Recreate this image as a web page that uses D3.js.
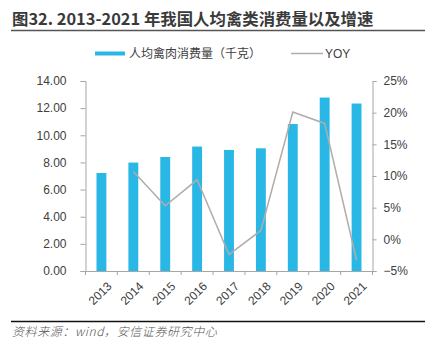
<!DOCTYPE html>
<html>
<head>
<meta charset="utf-8">
<script src="https://cdn.jsdelivr.net/npm/d3@7"></script>
<style>
  body { margin: 0; background: #fff; }
  svg { display: block; }
</style>
</head>
<body>
<div id="chart"></div>
<script>
(function () {
    'use strict';
    var w = 430, h = 347;

    // data
    var years = ["2013", "2014", "2015", "2016", "2017", "2018", "2019", "2020", "2021"];
    var consumption = [7.22, 7.99, 8.40, 9.17, 8.92, 9.04, 10.83, 12.78, 12.34];
    var yoy = [null, 10.7, 5.3, 9.4, -2.4, 1.4, 20.1, 18.3, -3.3];
    var leftTicks = [0, 2, 4, 6, 8, 10, 12, 14];
    var rightTicks = [-5, 0, 5, 10, 15, 20, 25];

    var barColor = "#29b8e5";
    var lineColor = "#b3abab";
    var axisColor = "#a6a6a6";
    var textColor = "#404040";
    var numFont = "'Liberation Sans', Arial, sans-serif";
    var cjkFont = "'Noto Sans CJK SC', sans-serif";

    var plot = { left: 85.5, right: 372.5, top: 81, bottom: 271 };

    var svg = d3.select("#chart").append("svg")
        .attr("width", w)
        .attr("height", h);

    // title + rule
    svg.append("text")
        .attr("x", 12)
        .attr("y", 25)
        .attr("font-family", cjkFont)
        .attr("font-weight", "bold")
        .attr("font-size", "16.4px")
        .attr("fill", "#3a3a3a")
        .text("图32. 2013-2021 年我国人均禽类消费量以及增速");
    svg.append("line")
        .attr("x1", 11).attr("x2", 425)
        .attr("y1", 30.5).attr("y2", 30.5)
        .attr("stroke", "#555").attr("stroke-width", 1.5);

    // scales
    var x = d3.scaleBand()
        .domain(years)
        .range([plot.left, plot.right])
        .paddingInner(0.69)
        .paddingOuter(0.345);
    var yL = d3.scaleLinear().domain([0, 14]).range([plot.bottom, plot.top]);
    var yR = d3.scaleLinear().domain([-5, 25]).range([plot.bottom, plot.top]);

    // bars
    svg.selectAll("rect.bar")
        .data(consumption)
        .enter()
        .append("rect")
        .attr("class", "bar")
        .attr("x", function (d, i) { return x(years[i]); })
        .attr("y", function (d) { return yL(d); })
        .attr("width", x.bandwidth())
        .attr("height", function (d) { return yL(0) - yL(d); })
        .attr("fill", barColor);

    // yoy line
    var line = d3.line()
        .defined(function (d) { return d != null; })
        .x(function (d, i) { return x(years[i]) + x.bandwidth() / 2; })
        .y(function (d) { return yR(d); });
    svg.append("path")
        .datum(yoy)
        .attr("d", line)
        .attr("fill", "none")
        .attr("stroke", lineColor)
        .attr("stroke-width", 1.5);

    // left axis
    var gL = svg.append("g")
        .attr("transform", "translate(" + plot.left + ",0)")
        .call(d3.axisLeft(yL).tickValues(leftTicks).tickSize(5).tickPadding(14)
            .tickFormat(d3.format(".2f")));
    // right axis
    var gR = svg.append("g")
        .attr("transform", "translate(" + plot.right + ",0)")
        .call(d3.axisRight(yR).tickValues(rightTicks).tickSize(4).tickPadding(7)
            .tickFormat(function (d) { return (d < 0 ? "\u2212" + (-d) : d) + "%"; }));
    // bottom axis: ticks on band boundaries
    var gB = svg.append("g")
        .attr("transform", "translate(0," + plot.bottom + ")");
    gB.append("line")
        .attr("x1", plot.left).attr("x2", plot.right)
        .attr("y1", 0.5).attr("y2", 0.5)
        .attr("stroke", axisColor);
    var step = x.step();
    gB.selectAll("line.tk")
        .data(d3.range(years.length + 1))
        .enter()
        .append("line")
        .attr("class", "tk")
        .attr("x1", function (i) { return plot.left + i * step; })
        .attr("x2", function (i) { return plot.left + i * step; })
        .attr("y1", 0).attr("y2", 4)
        .attr("stroke", axisColor);
    gB.selectAll("text")
        .data(years)
        .enter()
        .append("text")
        .attr("transform", function (d) {
            return "translate(" + (x(d) + x.bandwidth() / 2 + 5) + ",10) rotate(-45)";
        })
        .attr("text-anchor", "end")
        .attr("dy", "0.7em")
        .attr("font-family", numFont)
        .attr("font-size", "12px")
        .attr("fill", textColor)
        .text(function (d) { return d; });

    [gL, gR].forEach(function (g) {
        g.select(".domain").attr("stroke", axisColor);
        g.selectAll(".tick line").attr("stroke", axisColor);
        g.selectAll(".tick text")
            .attr("font-family", numFont)
            .attr("font-size", "12px")
            .attr("fill", textColor);
    });

    // legend
    var lg = svg.append("g");
    lg.append("rect")
        .attr("x", 95).attr("y", 51.5)
        .attr("width", 30).attr("height", 4)
        .attr("fill", barColor);
    lg.append("text")
        .attr("x", 129).attr("y", 53.5)
        .attr("dy", "0.35em")
        .attr("font-family", cjkFont)
        .attr("font-size", "12px")
        .attr("fill", textColor)
        .text("人均禽肉消费量（千克）");
    lg.append("line")
        .attr("x1", 291).attr("x2", 323)
        .attr("y1", 53.5).attr("y2", 53.5)
        .attr("stroke", lineColor).attr("stroke-width", 1.5);
    lg.append("text")
        .attr("x", 325).attr("y", 53.5)
        .attr("dy", "0.35em")
        .attr("font-family", numFont)
        .attr("font-size", "12px")
        .attr("fill", textColor)
        .text("YOY");

    // footer
    svg.append("line")
        .attr("x1", 11).attr("x2", 425)
        .attr("y1", 321.5).attr("y2", 321.5)
        .attr("stroke", "#111").attr("stroke-width", 1.5);
    svg.append("text")
        .attr("x", 12).attr("y", 332)
        .attr("dy", "0.35em")
        .attr("font-family", cjkFont)
        .attr("font-style", "italic")
        .attr("font-weight", "300")
        .attr("font-size", "12px")
        .attr("letter-spacing", "0.6px")
        .attr("fill", "#555")
        .text("资料来源：wind，安信证券研究中心");
}());
</script>
</body>
</html>
